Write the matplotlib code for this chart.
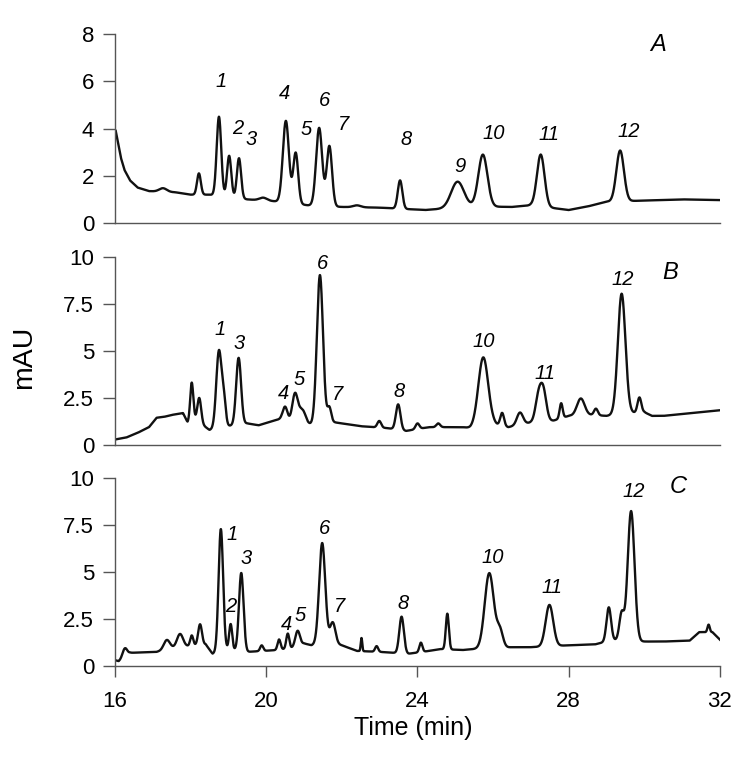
import numpy as np
import matplotlib
matplotlib.use("Agg")
import matplotlib.pyplot as plt

plt.rcParams['font.family'] = ['Liberation Sans', 'DejaVu Sans']

# ---------------- data ----------------
# Panel A: baseline knots (time, mAU) and peaks (time, height above baseline, sigma)
a_base_t = [16.02, 16.08, 16.15, 16.25, 16.4, 16.6, 16.9, 17.6, 18.0, 18.5, 19.5, 20.4, 21.1, 22.0, 23.0, 24.2, 25.5, 26.5, 27.0, 28.0, 28.5, 29.0, 30.0, 31.0, 32.0]
a_base_y = [3.9, 3.4, 2.8, 2.25, 1.8, 1.5, 1.35, 1.3, 1.2, 1.2, 1.0, 0.9, 0.75, 0.68, 0.65, 0.55, 0.7, 0.68, 0.75, 0.55, 0.7, 0.9, 0.95, 1.0, 0.97]
a_peak_t = [17.27, 18.22, 18.75, 19.02, 19.28, 19.92, 20.52, 20.78, 21.40, 21.67, 22.4, 23.54, 25.06, 25.73, 27.26, 29.36]
a_peak_h = [0.15, 0.9, 3.35, 1.75, 1.7, 0.12, 3.45, 2.15, 3.3, 2.55, 0.08, 1.2, 1.1, 2.2, 2.2, 2.15]
a_peak_w = [0.1, 0.05, 0.06, 0.055, 0.055, 0.1, 0.08, 0.065, 0.08, 0.07, 0.1, 0.06, 0.17, 0.12, 0.1, 0.1]
a_lab = ['1', '2', '3', '4', '5', '6', '7', '8', '9', '10', '11', '12']
a_lab_t = [18.82, 19.24, 19.59, 20.48, 21.05, 21.53, 22.04, 23.71, 25.13, 26.01, 27.49, 29.60]
a_lab_y = [5.99, 4.01, 3.52, 5.47, 3.94, 5.18, 4.19, 3.55, 2.39, 3.80, 3.73, 3.87]

# Panel B
b_base_t = [16.02, 16.3, 16.6, 16.9, 17.1, 17.3, 17.5, 17.8, 17.92, 18.1, 18.5, 18.95, 19.5, 19.8, 20.2, 20.4, 21.1, 21.5, 22.0, 22.5, 23.2, 23.7, 24.3, 25.2, 25.4, 26.0, 26.4, 27.0, 27.6, 28.0, 28.6, 29.0, 29.6, 30.0, 30.2, 30.5, 31.0, 31.5, 32.0]
b_base_y = [0.3, 0.4, 0.65, 0.95, 1.45, 1.5, 1.6, 1.7, 1.2, 1.4, 0.8, 1.0, 1.15, 1.05, 1.3, 1.4, 1.0, 1.3, 1.15, 1.0, 0.9, 0.75, 0.95, 0.95, 0.9, 1.1, 0.95, 1.2, 1.3, 1.55, 1.6, 1.55, 1.7, 1.75, 1.55, 1.55, 1.65, 1.75, 1.85]
b_peak_t = [18.03, 18.23, 18.75, 18.88, 19.27, 20.50, 20.76, 20.95, 21.42, 21.67, 22.99, 23.49, 24.0, 24.55, 25.74, 26.24, 26.71, 27.2, 27.33, 27.8, 28.32, 28.72, 29.40, 29.87]
b_peak_h = [2.0, 1.3, 4.1, 1.3, 3.55, 0.7, 1.45, 0.8, 7.8, 0.75, 0.35, 1.35, 0.3, 0.2, 3.65, 0.7, 0.65, 1.3, 1.55, 0.8, 0.9, 0.35, 6.4, 0.8]
b_peak_w = [0.04, 0.05, 0.07, 0.05, 0.065, 0.06, 0.07, 0.1, 0.08, 0.05, 0.05, 0.06, 0.05, 0.05, 0.13, 0.05, 0.08, 0.08, 0.08, 0.04, 0.1, 0.05, 0.1, 0.05]
b_lab = ['1', '3', '4', '5', '6', '7', '8', '10', '11', '12']
b_lab_t = [18.78, 19.29, 20.47, 20.87, 21.49, 21.88, 23.52, 25.76, 27.37, 29.42]
b_lab_y = [6.15, 5.41, 2.75, 3.46, 9.66, 2.71, 2.84, 5.5, 3.78, 8.81]

# Panel C
c_base_t = [16.02, 16.1, 16.4, 17.1, 17.5, 17.9, 18.4, 18.58, 19.0, 19.5, 20.3, 20.66, 21.0, 21.2, 21.6, 22.0, 22.4, 23.0, 23.76, 24.3, 24.6, 25.2, 25.5, 26.5, 27.0, 28.0, 28.7, 29.0, 29.3, 29.9, 30.5, 31.2, 31.45, 31.8, 32.0]
c_base_y = [0.3, 0.25, 0.7, 0.75, 0.95, 1.05, 1.15, 0.65, 0.9, 0.75, 0.85, 0.95, 1.2, 1.1, 1.3, 1.1, 0.8, 0.75, 0.65, 0.8, 0.9, 0.85, 0.9, 1.0, 1.0, 1.1, 1.15, 1.3, 1.4, 1.3, 1.3, 1.35, 1.8, 1.8, 1.4]
c_peak_t = [16.26, 17.37, 17.72, 18.03, 18.25, 18.80, 19.06, 19.34, 19.88, 20.34, 20.57, 20.83, 21.48, 21.76, 22.52, 22.92, 23.58, 24.09, 24.79, 25.90, 26.18, 27.49, 29.06, 29.40, 29.65, 31.7]
c_peak_h = [0.45, 0.5, 0.7, 0.55, 1.1, 6.5, 1.35, 4.15, 0.3, 0.55, 0.8, 0.8, 5.3, 1.1, 0.7, 0.3, 1.95, 0.5, 1.9, 4.0, 0.9, 2.2, 1.8, 1.4, 6.9, 0.4]
c_peak_w = [0.06, 0.08, 0.08, 0.04, 0.05, 0.06, 0.04, 0.06, 0.04, 0.04, 0.04, 0.06, 0.08, 0.07, 0.02, 0.04, 0.06, 0.04, 0.04, 0.12, 0.08, 0.1, 0.06, 0.06, 0.09, 0.03]
c_lab = ['1', '2', '3', '4', '5', '6', '7', '8', '10', '11', '12']
c_lab_t = [19.10, 19.07, 19.46, 20.54, 20.91, 21.53, 21.95, 23.63, 25.99, 27.55, 29.71]
c_lab_y = [7.0, 3.16, 5.73, 2.18, 2.68, 7.32, 3.16, 3.33, 5.78, 4.17, 9.27]

panel_names = ['A', 'B', 'C']
panel_name_pos = [(30.37, 7.54), (30.69, 9.16), (30.90, 9.54)]
y_limits = [(0, 8), (0, 10), (0, 10)]
y_ticks = [[0, 2, 4, 6, 8], [0, 2.5, 5, 7.5, 10], [0, 2.5, 5, 7.5, 10]]
x_ticks = [16, 20, 24, 28, 32]


def trace(t, bt, by, pt, ph, pw):
    y = np.interp(t, bt, by)
    for c, h, w in zip(pt, ph, pw):
        y = y + h * np.exp(-0.5 * ((t - c) / w) ** 2)
    return y


t = np.linspace(16.02, 32.0, 4000)
panels = [
    (a_base_t, a_base_y, a_peak_t, a_peak_h, a_peak_w, a_lab, a_lab_t, a_lab_y),
    (b_base_t, b_base_y, b_peak_t, b_peak_h, b_peak_w, b_lab, b_lab_t, b_lab_y),
    (c_base_t, c_base_y, c_peak_t, c_peak_h, c_peak_w, c_lab, c_lab_t, c_lab_y),
]

fig = plt.figure(figsize=(7.48, 7.58), dpi=100)
boxes = [(0.1537, 0.7058, 0.8088, 0.2493),
         (0.1537, 0.4129, 0.8088, 0.2480),
         (0.1537, 0.1214, 0.8088, 0.2480)]

for i, (box, p) in enumerate(zip(boxes, panels)):
    ax = fig.add_axes(box)
    bt, by, pt, ph, pw, lab, lt, ly = p
    ax.plot(t, trace(t, bt, by, pt, ph, pw), color='#111111', lw=1.7)
    for s, x, y in zip(lab, lt, ly):
        ax.text(x, y, s, fontsize=14.5, style='italic', ha='center', va='center')
    nx, ny = panel_name_pos[i]
    ax.text(nx, ny, panel_names[i], fontsize=17, style='italic', ha='center', va='center')
    ax.set_xlim(16, 32)
    ax.set_ylim(*y_limits[i])
    ax.set_yticks(y_ticks[i])
    ax.set_yticklabels([('%g' % v) for v in y_ticks[i]])
    for sp in ['top', 'right']:
        ax.spines[sp].set_visible(False)
    for sp in ['left', 'bottom']:
        ax.spines[sp].set_color('#555555')
        ax.spines[sp].set_linewidth(1.0)
    ax.tick_params(axis='y', direction='out', length=9, width=1.0, color='#555555',
                   labelsize=16, pad=6)
    ax.set_xticks(x_ticks)
    if i < 2:
        ax.tick_params(axis='x', bottom=False, labelbottom=False)
    else:
        ax.tick_params(axis='x', direction='out', length=8, width=1.0, color='#555555',
                       labelsize=16, pad=10)
        ax.set_xticklabels([str(v) for v in x_ticks])
    ax.patch.set_alpha(0)

fig.text(0.032, 0.529, 'mAU', rotation=90, fontsize=20.5, ha='center', va='center')
fig.text(0.553, 0.040, 'Time (min)', fontsize=18, ha='center', va='center')

fig.savefig('out.png', dpi=100, facecolor='white')
